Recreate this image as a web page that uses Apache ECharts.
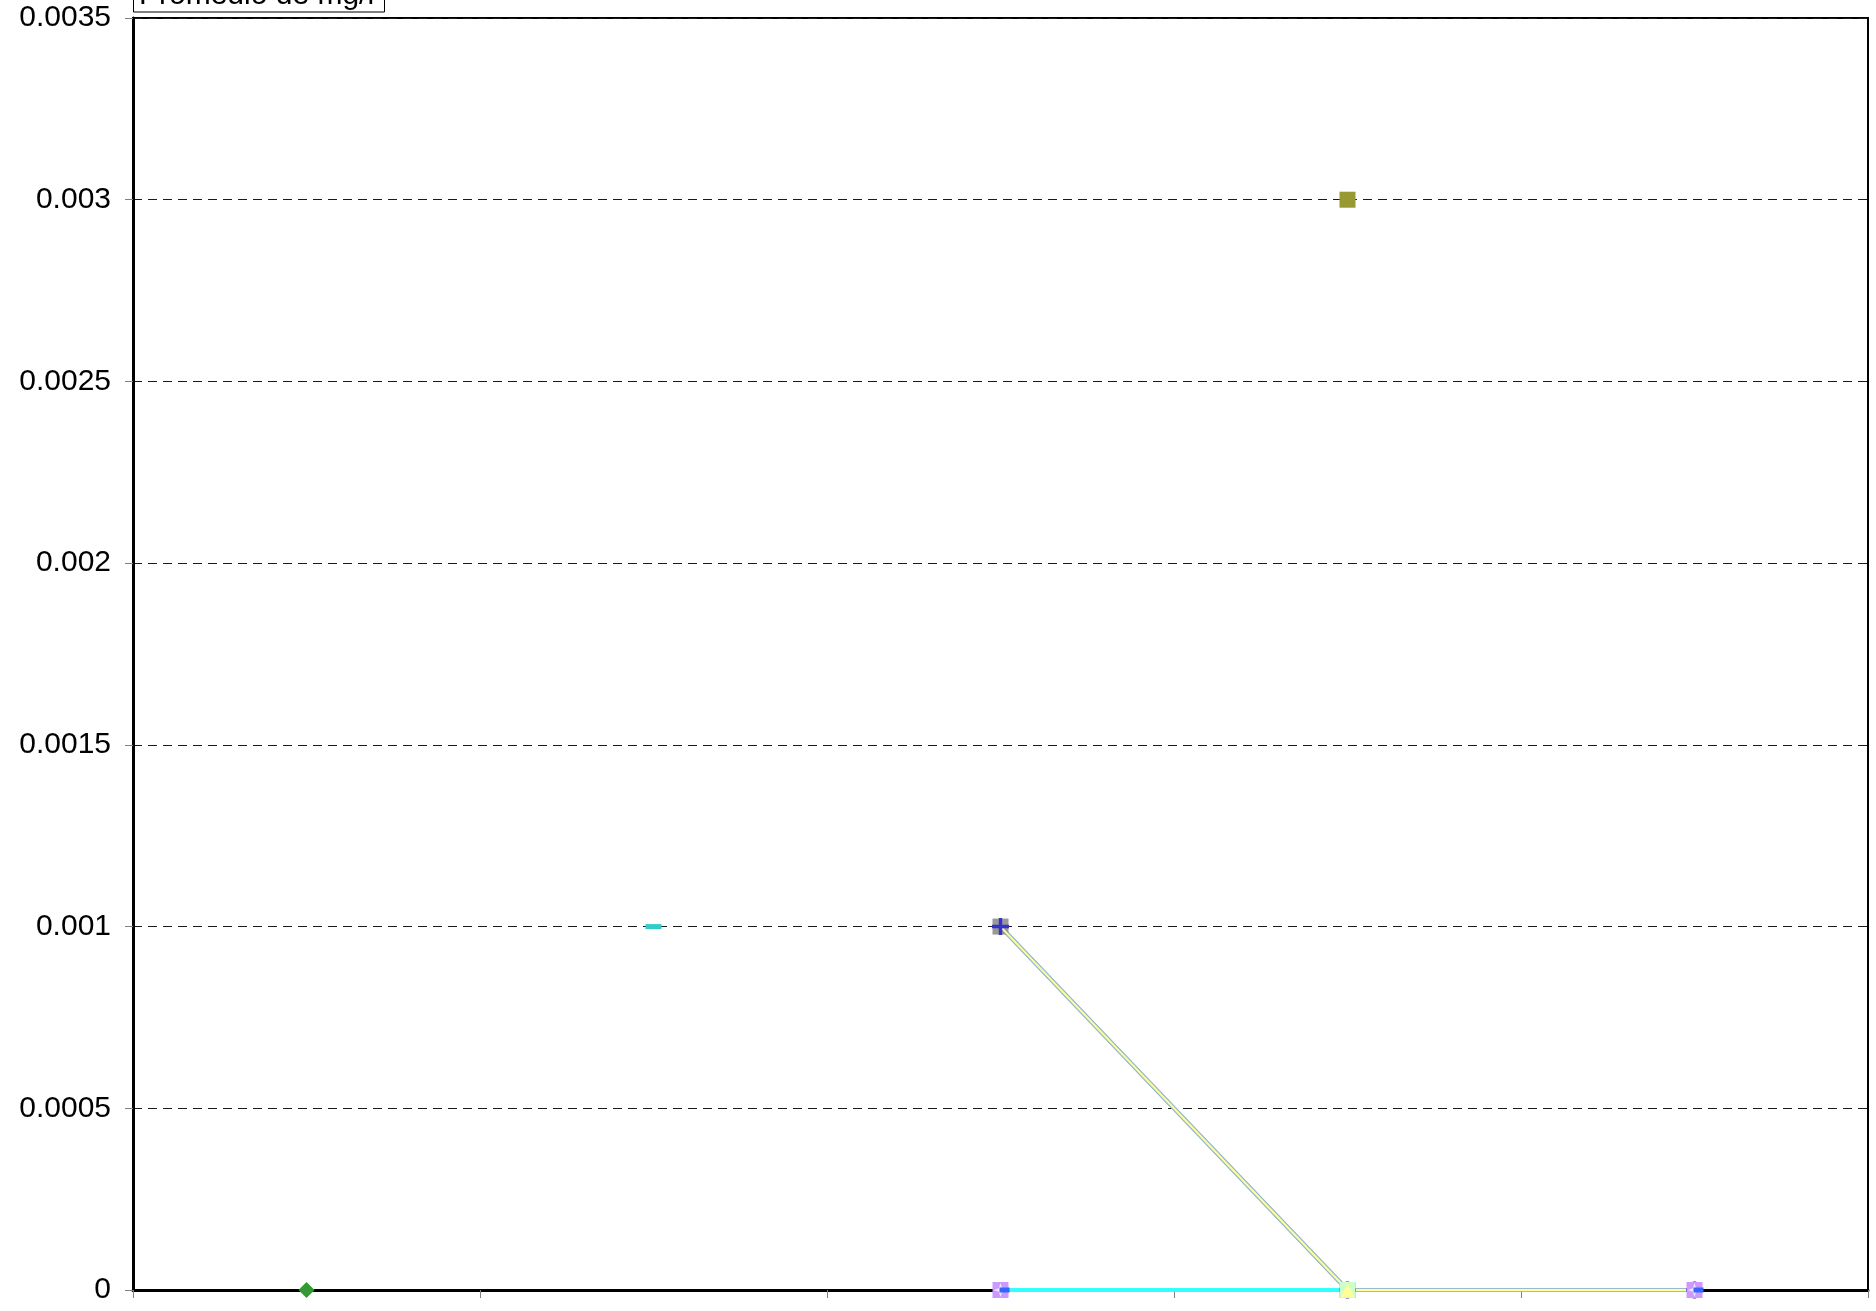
<!DOCTYPE html>
<html>
<head>
<meta charset="utf-8">
<style>
  html, body { margin: 0; padding: 0; background: #fff; }
  #chart { width: 1876px; height: 1311px; }
</style>
<script src="https://cdn.jsdelivr.net/npm/echarts@6/dist/echarts.min.js"></script>
</head>
<body>
<div id="chart"></div>
<script>
// Categories along the x axis (labels are not shown on this chart)
const categories = ['1', '2', '3', '4', '5'];

// Y axis ticks
const yMin = 0;
const yMax = 0.0035;
const yStep = 0.0005;

// Series values (mg/l), '-' marks a missing point
const greenDiamond   = [0, '-', '-', '-', '-'];
const cyanDash       = ['-', 0.001, '-', '-', '-'];
const graySquareLine = ['-', '-', 0.001, 0, '-'];
const yellowLine     = ['-', '-', 0.001, 0, 0];
const cyanLine       = ['-', '-', 0, 0, '-'];
const purpleMarks    = ['-', '-', 0, '-', 0];
const oliveSquare    = ['-', '-', '-', 0.003, '-'];
const paleSquare     = ['-', '-', '-', 0, '-'];

const plusPath = 'path://M0,4 L10,4 L10,6 L0,6 Z M4,0 L6,0 L6,10 L4,10 Z';
const starPath = 'path://M5,0 L6.2,3.8 L10,5 L6.2,6.2 L5,10 L3.8,6.2 L0,5 L3.8,3.8 Z';

const chart = echarts.init(document.getElementById('chart'), null, { renderer: 'canvas' });

function fmt(v) {
  return Number(v.toPrecision(6)).toString();
}

const option = {
  animation: false,
  backgroundColor: '#ffffff',
  textStyle: { fontFamily: 'Liberation Sans, Arial, sans-serif' },
  grid: {
    left: 133, top: 18, right: 8, bottom: 21,
    show: true, borderColor: '#000000', borderWidth: 2, backgroundColor: 'transparent'
  },
  xAxis: {
    type: 'category',
    data: categories,
    boundaryGap: true,
    axisLine: { show: true, onZero: true, lineStyle: { color: '#000000', width: 3 } },
    axisTick: { show: true, length: 8, lineStyle: { color: '#808080', width: 1 } },
    axisLabel: { show: false },
    splitLine: { show: false }
  },
  yAxis: {
    type: 'value',
    min: yMin, max: yMax, interval: yStep,
    axisLine: { show: true, lineStyle: { color: '#000000', width: 3 } },
    axisTick: { show: true, length: 8, lineStyle: { color: '#808080', width: 1 } },
    axisLabel: {
      color: '#000000', fontSize: 30, margin: 22,
      fontFamily: 'Liberation Sans, Arial, sans-serif',
      formatter: fmt
    },
    splitLine: { show: true, lineStyle: { color: '#1a1a1a', width: 1, type: [9, 6] } }
  },
  graphic: [
    {
      type: 'rect',
      shape: { x: 133.5, y: -22, width: 251, height: 34 },
      style: { fill: '#ffffff', stroke: '#000000', lineWidth: 1 },
      z: 100
    },
    {
      type: 'text',
      x: 139, y: -4,
      style: {
        text: 'Promedio de mg/l',
        fill: '#000000',
        font: '30px "Liberation Sans", Arial, sans-serif',
        verticalAlign: 'middle'
      },
      z: 101
    }
  ],
  series: [
    {
      name: 'cyanLine', type: 'line', data: cyanLine,
      symbol: 'none', lineStyle: { color: '#33FFFF', width: 4 }, z: 3
    },
    {
      name: 'graySquareLine', type: 'line', data: graySquareLine,
      symbol: 'rect', symbolSize: 16,
      itemStyle: { color: '#999999' },
      lineStyle: { color: '#6699CC', width: 4 }, z: 4
    },
    {
      name: 'yellowEdge', type: 'line', data: yellowLine,
      symbol: 'none', lineStyle: { color: '#99BBCC', width: 4 }, z: 4
    },
    {
      name: 'yellowLine', type: 'line', data: yellowLine,
      symbol: plusPath, symbolSize: 17,
      itemStyle: { color: '#3333CC' },
      lineStyle: { color: '#FFFF99', width: 2 }, z: 6
    },
    {
      name: 'purpleMarks', type: 'line', data: purpleMarks,
      symbol: 'rect', symbolSize: 16, connectNulls: false,
      itemStyle: { color: '#CC99FF' },
      lineStyle: { width: 0, opacity: 0 }, z: 7
    },
    {
      name: 'purpleStar', type: 'line', data: purpleMarks,
      symbol: starPath, symbolSize: 14, connectNulls: false,
      itemStyle: { color: '#EDE6FA' },
      lineStyle: { width: 0, opacity: 0 }, z: 8
    },
    {
      name: 'blueDash', type: 'line', data: purpleMarks,
      symbol: 'rect', symbolSize: [10, 5], symbolOffset: [4, 0], connectNulls: false,
      itemStyle: { color: '#3366FF' },
      lineStyle: { width: 0, opacity: 0 }, z: 9
    },
    {
      name: 'greenDiamond', type: 'line', data: greenDiamond,
      symbol: 'diamond', symbolSize: 16,
      itemStyle: { color: '#339933' }, z: 7
    },
    {
      name: 'cyanDash', type: 'line', data: cyanDash,
      symbol: 'rect', symbolSize: [16, 5],
      itemStyle: { color: '#33CCCC' }, z: 7
    },
    {
      name: 'oliveSquare', type: 'line', data: oliveSquare,
      symbol: 'rect', symbolSize: 16,
      itemStyle: { color: '#999933' }, z: 7
    },
    {
      name: 'paleSquare', type: 'line', data: paleSquare,
      symbol: 'rect', symbolSize: 16,
      itemStyle: { color: '#CCFFCC' }, z: 8
    },
    {
      name: 'yellowTriangle', type: 'line', data: paleSquare,
      symbol: 'triangle', symbolSize: 14,
      itemStyle: { color: '#FFFF99' }, z: 9
    }
  ]
};

chart.setOption(option);
</script>
</body>
</html>
